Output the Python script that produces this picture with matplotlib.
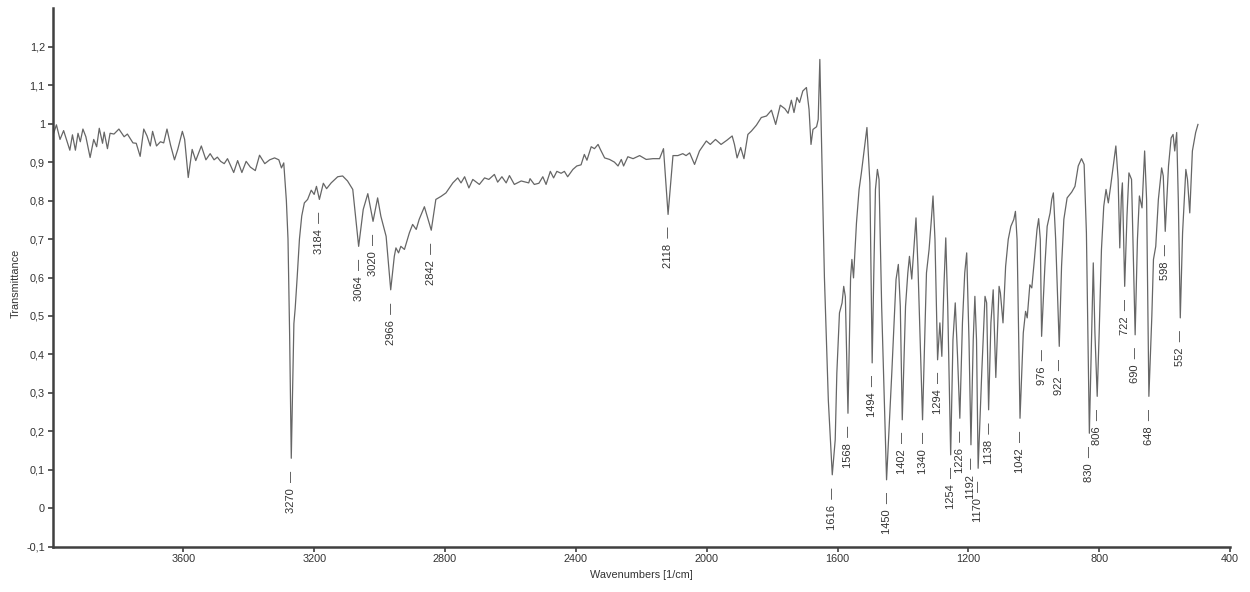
import matplotlib
matplotlib.use("Agg")
import matplotlib.pyplot as plt
import numpy as np

# IR spectrum (wavenumber in 1/cm, transmittance)
wavenumber = [
    4000, 3988, 3977, 3966, 3947, 3939, 3930, 3922, 3915, 3907, 3898, 3885, 3874, 3865,
    3857, 3847, 3842, 3832, 3824, 3812, 3797, 3781, 3771, 3754, 3744, 3732, 3721, 3711,
    3701, 3694, 3682, 3670, 3660, 3650, 3639, 3627, 3617, 3603, 3596, 3585, 3573, 3562,
    3545, 3531, 3518, 3506, 3496, 3486, 3475, 3465, 3446, 3434, 3421, 3408, 3395, 3380,
    3367, 3351, 3336, 3321, 3308, 3300, 3293, 3285, 3280, 3275, 3270, 3265, 3262, 3258,
    3252, 3245, 3238, 3230, 3220, 3209, 3200, 3193, 3184, 3172, 3162, 3148, 3128, 3113,
    3098, 3082, 3064, 3050, 3036, 3020, 3006, 2996, 2980, 2966, 2955, 2950, 2942, 2935,
    2924, 2909, 2899, 2888, 2879, 2863, 2842, 2828, 2812, 2797, 2776, 2761, 2751, 2740,
    2727, 2715, 2695, 2679, 2666, 2649, 2639, 2626, 2613, 2603, 2588, 2567, 2544, 2540,
    2527, 2513, 2501, 2491, 2478, 2468, 2458, 2445, 2435, 2425, 2409, 2397, 2384, 2374,
    2366, 2353, 2343, 2332, 2325, 2312, 2297, 2282, 2271, 2261, 2254, 2241, 2225, 2205,
    2185, 2164, 2144, 2132, 2118, 2103, 2088, 2073, 2063, 2052, 2037, 2022, 2001, 1989,
    1973, 1956, 1938, 1922, 1915, 1907, 1896, 1886, 1874, 1863, 1848, 1833, 1817, 1802,
    1789, 1775, 1761, 1751, 1741, 1733, 1724, 1716, 1706, 1695, 1687, 1681, 1675, 1664,
    1659, 1654, 1650, 1640, 1628, 1616, 1607, 1602, 1594, 1586, 1581, 1576, 1568, 1560,
    1556, 1551, 1542, 1534, 1527, 1510, 1501, 1494, 1489, 1484, 1478, 1473, 1465, 1450,
    1434, 1421, 1414, 1408, 1402, 1392, 1385, 1380, 1373, 1366, 1360, 1354, 1340, 1328,
    1320, 1313, 1308, 1302, 1294, 1287, 1281, 1275, 1269, 1263, 1254, 1247, 1240, 1233,
    1226, 1218, 1211, 1205, 1198, 1192, 1185, 1180, 1175, 1170, 1159, 1149, 1144, 1138,
    1131, 1124, 1116, 1106, 1102, 1094, 1086, 1078, 1070, 1061, 1056, 1051, 1042, 1032,
    1025, 1020, 1012, 1006, 998, 990, 985, 980, 976, 966, 959, 950, 945, 940,
    933, 922, 915, 908, 898, 884, 874, 864, 854, 846, 839, 830, 823, 818,
    813, 806, 800, 793, 786, 779, 772, 765, 757, 749, 742, 737, 732, 729,
    722, 715, 709, 701, 690, 683, 677, 669, 661, 655, 648, 639, 634, 627,
    619, 609, 604, 598, 588, 580, 574, 569, 563, 558, 552, 545, 535, 530,
    523, 515, 505, 498,
]
transmittance = [
    0.966, 0.997, 0.959, 0.982, 0.931, 0.971, 0.931, 0.975, 0.953, 0.986, 0.966, 0.912, 0.959, 0.940,
    0.988, 0.949, 0.978, 0.935, 0.975, 0.973, 0.986, 0.966, 0.973, 0.950, 0.949, 0.915, 0.986, 0.968,
    0.942, 0.980, 0.942, 0.953, 0.950, 0.986, 0.944, 0.906, 0.933, 0.980, 0.959, 0.860, 0.933, 0.904,
    0.942, 0.906, 0.922, 0.906, 0.913, 0.902, 0.896, 0.909, 0.873, 0.904, 0.873, 0.902, 0.887, 0.878,
    0.918, 0.896, 0.906, 0.911, 0.906, 0.885, 0.898, 0.800, 0.700, 0.450, 0.130, 0.350, 0.480, 0.520,
    0.600, 0.700, 0.760, 0.794, 0.803, 0.827, 0.816, 0.837, 0.803, 0.845, 0.831, 0.846, 0.862, 0.864,
    0.851, 0.829, 0.681, 0.777, 0.818, 0.746, 0.807, 0.759, 0.707, 0.568, 0.655, 0.677, 0.664, 0.681,
    0.673, 0.716, 0.738, 0.725, 0.751, 0.784, 0.723, 0.803, 0.811, 0.820, 0.846, 0.859, 0.846, 0.862,
    0.833, 0.855, 0.842, 0.859, 0.855, 0.868, 0.848, 0.862, 0.846, 0.865, 0.842, 0.851, 0.846, 0.857,
    0.842, 0.845, 0.862, 0.842, 0.876, 0.859, 0.876, 0.871, 0.876, 0.862, 0.881, 0.890, 0.893, 0.920,
    0.905, 0.940, 0.935, 0.946, 0.933, 0.911, 0.907, 0.900, 0.890, 0.907, 0.890, 0.914, 0.909, 0.917,
    0.907, 0.909, 0.909, 0.935, 0.764, 0.917, 0.917, 0.922, 0.917, 0.924, 0.894, 0.929, 0.955, 0.946,
    0.959, 0.946, 0.957, 0.968, 0.946, 0.911, 0.938, 0.909, 0.972, 0.981, 0.996, 1.016, 1.020, 1.035,
    0.998, 1.048, 1.039, 1.027, 1.061, 1.029, 1.068, 1.055, 1.085, 1.094, 1.037, 0.946, 0.985, 0.992,
    1.011, 1.167, 1.000, 0.600, 0.280, 0.087, 0.178, 0.352, 0.508, 0.534, 0.577, 0.550, 0.247, 0.600,
    0.647, 0.599, 0.742, 0.829, 0.872, 0.990, 0.846, 0.378, 0.612, 0.829, 0.881, 0.855, 0.525, 0.074,
    0.352, 0.595, 0.634, 0.525, 0.230, 0.525, 0.612, 0.655, 0.596, 0.681, 0.755, 0.629, 0.230, 0.612,
    0.673, 0.751, 0.812, 0.699, 0.386, 0.482, 0.395, 0.568, 0.703, 0.525, 0.139, 0.438, 0.534, 0.395,
    0.234, 0.482, 0.612, 0.664, 0.438, 0.165, 0.438, 0.551, 0.438, 0.104, 0.352, 0.551, 0.534, 0.256,
    0.482, 0.568, 0.340, 0.577, 0.560, 0.482, 0.629, 0.699, 0.733, 0.751, 0.772, 0.699, 0.234, 0.456,
    0.512, 0.495, 0.581, 0.573, 0.647, 0.725, 0.753, 0.699, 0.447, 0.629, 0.733, 0.768, 0.803, 0.820,
    0.699, 0.421, 0.629, 0.751, 0.807, 0.822, 0.837, 0.890, 0.909, 0.894, 0.716, 0.195, 0.456, 0.638,
    0.456, 0.291, 0.456, 0.673, 0.785, 0.829, 0.794, 0.837, 0.890, 0.942, 0.855, 0.677, 0.812, 0.846,
    0.577, 0.759, 0.872, 0.855, 0.451, 0.699, 0.812, 0.781, 0.929, 0.803, 0.291, 0.499, 0.647, 0.681,
    0.803, 0.885, 0.864, 0.720, 0.890, 0.963, 0.972, 0.929, 0.977, 0.800, 0.495, 0.716, 0.881, 0.855,
    0.768, 0.929, 0.977, 0.998,
]

peaks = [3270, 3184, 3064, 3020, 2966, 2842, 2118, 1616, 1568, 1494, 1450, 1402, 1340,
         1294, 1254, 1226, 1192, 1170, 1138, 1042, 976, 922, 830, 806, 722, 690, 648,
         598, 552]

x_ticks = [3600, 3200, 2800, 2400, 2000, 1600, 1200, 800, 400]
y_ticks = [-0.1, 0, 0.1, 0.2, 0.3, 0.4, 0.5, 0.6, 0.7, 0.8, 0.9, 1.0, 1.1, 1.2]

plt.rcParams['font.family'] = ['Liberation Sans', 'DejaVu Sans']
text_col = '#333333'

wn = np.array(wavenumber)
tr = np.array(transmittance)

fig = plt.figure(figsize=(12.5, 5.92), dpi=100)
ax = fig.add_axes([0.042, 0.0765, 0.942, 0.9095])

ax.plot(wn, tr, color='#666666', lw=0.9)

# peak labels sit a little below each minimum
for p in peaks:
    near = np.abs(wn - p) <= 6
    ymin = tr[near].min()
    ax.annotate(f"{p}  \u2014", xy=(p, ymin), xytext=(0, -9), textcoords='offset points',
                rotation=90, ha='center', va='top', fontsize=8, color=text_col)

ax.set_xlim(4000, 400)
ax.set_ylim(-0.1, 1.3)
ax.set_xticks(x_ticks)
ax.set_xticklabels([str(t) for t in x_ticks])
ax.set_yticks(y_ticks)
ax.set_yticklabels([f"{t:g}".replace('.', ',') for t in y_ticks])

for s in ['top', 'right']:
    ax.spines[s].set_visible(False)
for s in ['left', 'bottom']:
    ax.spines[s].set_color('#404040')
    ax.spines[s].set_linewidth(1.8)

ax.tick_params(axis='both', direction='out', length=3.5, width=1.2, color='#404040',
               labelsize=7.8, labelcolor=text_col, pad=2)

ax.set_xlabel('Wavenumbers [1/cm]', fontsize=7.8, color=text_col, labelpad=4)
ax.set_ylabel('Transmittance', fontsize=7.8, color=text_col)
ax.yaxis.set_label_coords(-0.027, 0.49)

fig.savefig('out.png', dpi=100)
